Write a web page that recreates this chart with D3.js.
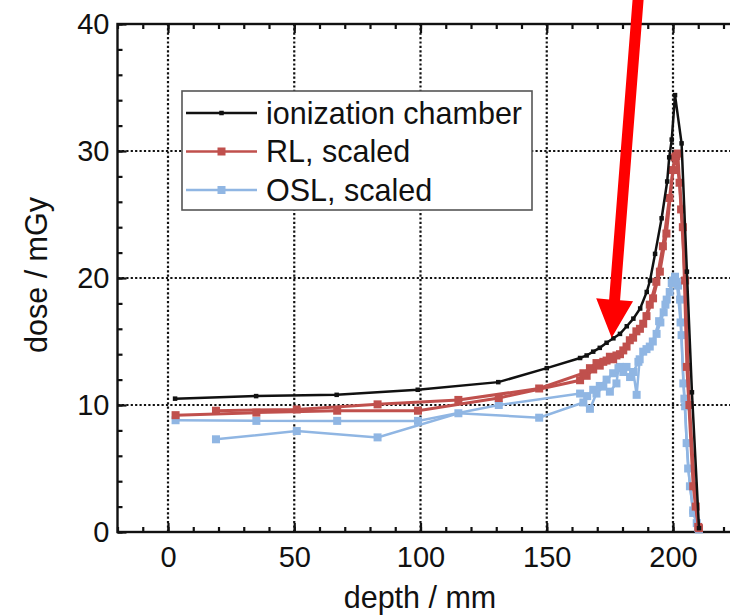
<!DOCTYPE html>
<html>
<head>
<meta charset="utf-8">
<script src="https://cdn.jsdelivr.net/npm/d3@7"></script>
<style>
body{margin:0;background:#fff}
text{font-family:"Liberation Sans",Arial,sans-serif;fill:#111}
</style>
</head>
<body>
<div id="chart"></div>
<script>
// tick values
const xMajor = [0, 50, 100, 150, 200];
const xMinor = d3.range(-20, 231, 10);
const yMajor = [0, 10, 20, 30, 40];
const yMinor = d3.range(0, 41, 2);

// ionization chamber [depth mm, dose mGy]
const ionChamber = [[2.8,10.5],[34.9,10.7],[66.8,10.8],[98.9,11.2],[130.8,11.8],[150,12.9],[163.2,13.7],
  [165.8,13.9],[168.4,14.2],[171,14.5],[173.7,14.9],[176.4,15.25],[179,15.6],[181.7,16.2],[184.3,16.8],
  [187,17.6],[189.6,18.9],[190.9,19.8],[192.9,21.9],[195.5,24.7],[197.7,27.6],[198.5,29.5],[199.5,30.9],
  [200.8,34.4],[203.4,30.6],[205.5,20.5],[207.5,11],[210.3,0.3]];

// RL, scaled: two interleaved detector stacks
const rlA = [[3,9.2],[35,9.4],[67,9.55],[99,9.55],[131,10.55],[163.2,11.95],[165.8,12.3],[168.4,12.8],
  [171,13.1],[173.7,13.5],[176.3,13.6],[179,14.0],[181.6,14.6],[184.2,15.3],[186.9,16.0],[189.5,17.0],
  [192.1,18.4],[194.8,20.5],[197.4,23.5],[200,28.5],[201.3,29.6],[202.6,27.5],[203.9,24],[205.5,13],
  [208,3.6],[210,0.4]];
const rlB = [[19,9.55],[51,9.65],[83,10.05],[115,10.4],[147,11.3],[164.5,12.5],[167.1,12.9],[169.7,13.3],
  [172.4,13.4],[175,13.8],[177.6,13.9],[180.3,14.3],[182.9,15.1],[185.5,15.8],[188.2,16.4],[190.8,17.9],
  [193.4,19.7],[196,22.5],[198.6,26.3],[200.6,29.5],[201.9,29.8],[203.2,25.4],[204.8,19.8],[206.5,10],
  [209,2],[210.3,0.3]];

// OSL, scaled: two interleaved detector stacks
const oslA = [[3,8.8],[35,8.75],[67,8.75],[99,8.75],[131,10.0],[163.2,10.9],[166,10.7],[168.4,11.2],
  [171,11.5],[173.7,12.0],[176.3,12.5],[179,13.0],[181.6,13.0],[184.2,12.6],[186.3,13.4],[188.2,14.2],
  [190.8,14.6],[193.5,15.6],[195,16.5],[196.3,17.3],[197.5,18.3],[198.7,18.9],[200,19.8],[200.8,20.1],
  [202,19.4],[202.8,18.3],[203.4,15.5],[204.1,11.7],[204.8,9.9],[205.4,7.0],[206.7,3.6],[208,1.7],
  [209.4,0.7],[210.3,0.2]];
const oslB = [[19,7.3],[51,7.95],[83,7.45],[115,9.35],[147,9.0],[164.5,10.2],[167.1,9.7],[169.7,10.9],
  [172.4,11.45],[175,11.05],[177.6,11.7],[178.4,12.9],[180.3,12.6],[183,12.2],[184.3,12.6],[185.6,10.8],
  [186.8,13.6],[189.5,14.4],[192,15.0],[194.5,16.6],[197,17.9],[199.5,19.6],[201.5,19.7],[203,16.5],
  [204.5,10.5],[206,5],[208,1.5],[210,0.3]];

// annotation arrow (data units)
const arrowTail = [186.6, 43];
const arrowTip = [175.7, 15.3];

const legendNames = ["ionization chamber", "RL, scaled", "OSL, scaled"];

const width = 730, height = 616;
const black = "#111", red = "#c0504d", blue = "#90b6e3";

const svg = d3.select("#chart").append("svg")
    .attr("width", width)
    .attr("height", height);

const x = d3.scaleLinear().domain([-20, 230]).range([117.5, 117.5 + 250 * 2.525]);
const y = d3.scaleLinear().domain([0, 40]).range([532, 24]);

// grid
let grid = svg.append("g").attr("stroke", "#111").attr("stroke-width", 2.2).attr("stroke-dasharray", "2.2,2.2");
grid.selectAll(".gx").data(xMajor.filter(d => d > -20)).enter().append("line")
    .attr("x1", d => x(d)).attr("x2", d => x(d)).attr("y1", y(0)).attr("y2", y(40));
grid.selectAll(".gy").data([10, 20, 30]).enter().append("line")
    .attr("x1", x(-20)).attr("x2", x(230)).attr("y1", d => y(d)).attr("y2", d => y(d));

// axes
let fontSize = 29;
svg.append("g").attr("transform", "translate(0," + y(0) + ")")
    .call(d3.axisBottom(x).tickValues(xMajor).tickSize(-9).tickSizeOuter(0).tickPadding(14));
svg.append("g").attr("transform", "translate(0," + y(0) + ")")
    .call(d3.axisBottom(x).tickValues(xMinor).tickSize(-5).tickSizeOuter(0).tickFormat(""));
svg.append("g").attr("transform", "translate(0," + y(40) + ")")
    .call(d3.axisTop(x).tickValues(xMajor).tickSize(-9).tickSizeOuter(0).tickFormat(""));
svg.append("g").attr("transform", "translate(0," + y(40) + ")")
    .call(d3.axisTop(x).tickValues(xMinor).tickSize(-5).tickSizeOuter(0).tickFormat(""));
svg.append("g").attr("transform", "translate(" + x(-20) + ",0)")
    .call(d3.axisLeft(y).tickValues(yMajor).tickSize(-9).tickSizeOuter(0).tickPadding(8));
svg.append("g").attr("transform", "translate(" + x(-20) + ",0)")
    .call(d3.axisLeft(y).tickValues(yMinor).tickSize(-5).tickSizeOuter(0).tickFormat(""));
svg.selectAll(".tick line").attr("stroke", "#111").attr("stroke-width", 2.2);
svg.selectAll(".domain").remove();
svg.selectAll(".tick text").style("font-size", fontSize + "px").attr("fill", "#111");

// frame
svg.append("rect")
    .attr("x", x(-20)).attr("y", y(40))
    .attr("width", x(230) - x(-20)).attr("height", y(0) - y(40))
    .attr("fill", "none").attr("stroke", "#111").attr("stroke-width", 2.4);

// axis titles
svg.append("text").attr("x", 420).attr("y", 608).attr("text-anchor", "middle")
    .style("font-size", "30.5px").text("depth / mm");
svg.append("text").attr("transform", "translate(47,275) rotate(-90)").attr("text-anchor", "middle")
    .style("font-size", "30.5px").text("dose / mGy");

// series
let lineGen = d3.line().x(d => x(d[0])).y(d => y(d[1]));
let series = [
    {data: oslA, color: blue, w: 2.5, size: 8},
    {data: oslB, color: blue, w: 2.5, size: 8},
    {data: rlA, color: red, w: 3, size: 8},
    {data: rlB, color: red, w: 3, size: 8},
    {data: ionChamber, color: black, w: 2.5, size: 4.5}
];
let plot = svg.append("g");
series.forEach(s => {
    plot.append("path").attr("d", lineGen(s.data))
        .attr("fill", "none").attr("stroke", s.color).attr("stroke-width", s.w);
    plot.selectAll(null).data(s.data).enter().append("rect")
        .attr("x", d => x(d[0]) - s.size / 2).attr("y", d => y(d[1]) - s.size / 2)
        .attr("width", s.size).attr("height", s.size).attr("fill", s.color);
});

// legend
let legend = svg.append("g");
legend.append("rect").attr("x", 182).attr("y", 91).attr("width", 350).attr("height", 119)
    .attr("fill", "#fff").attr("stroke", "#555").attr("stroke-width", 1.6);
let legendItems = [
    {name: legendNames[0], color: black, size: 4.5},
    {name: legendNames[1], color: red, size: 8},
    {name: legendNames[2], color: blue, size: 8}
];
legendItems.forEach((it, i) => {
    let ly = 113 + i * 38.5;
    legend.append("line").attr("x1", 186).attr("x2", 257).attr("y1", ly).attr("y2", ly)
        .attr("stroke", it.color).attr("stroke-width", 2.5);
    legend.append("rect").attr("x", 221.5 - it.size / 2).attr("y", ly - it.size / 2)
        .attr("width", it.size).attr("height", it.size).attr("fill", it.color);
    legend.append("text").attr("x", 266).attr("y", ly).attr("dy", "0.36em")
        .style("font-size", "30.5px").text(it.name);
});

// red arrow annotation
let p0 = [x(arrowTail[0]), y(arrowTail[1])], p1 = [x(arrowTip[0]), y(arrowTip[1])];
let dx = p1[0] - p0[0], dy = p1[1] - p0[1], len = Math.hypot(dx, dy);
let ux = dx / len, uy = dy / len, nx = -uy, ny = ux;
let headLen = 38, headW = 18.5, shaftW = 5.5;
let b = [p1[0] - ux * headLen, p1[1] - uy * headLen];
let pts = [
    [p0[0] + nx * shaftW, p0[1] + ny * shaftW],
    [b[0] + nx * shaftW, b[1] + ny * shaftW],
    [b[0] + nx * headW, b[1] + ny * headW],
    p1,
    [b[0] - nx * headW, b[1] - ny * headW],
    [b[0] - nx * shaftW, b[1] - ny * shaftW],
    [p0[0] - nx * shaftW, p0[1] - ny * shaftW]
];
svg.append("polygon").attr("points", pts.map(p => p.join(",")).join(" ")).attr("fill", "#ff0000");
</script>
</body>
</html>
